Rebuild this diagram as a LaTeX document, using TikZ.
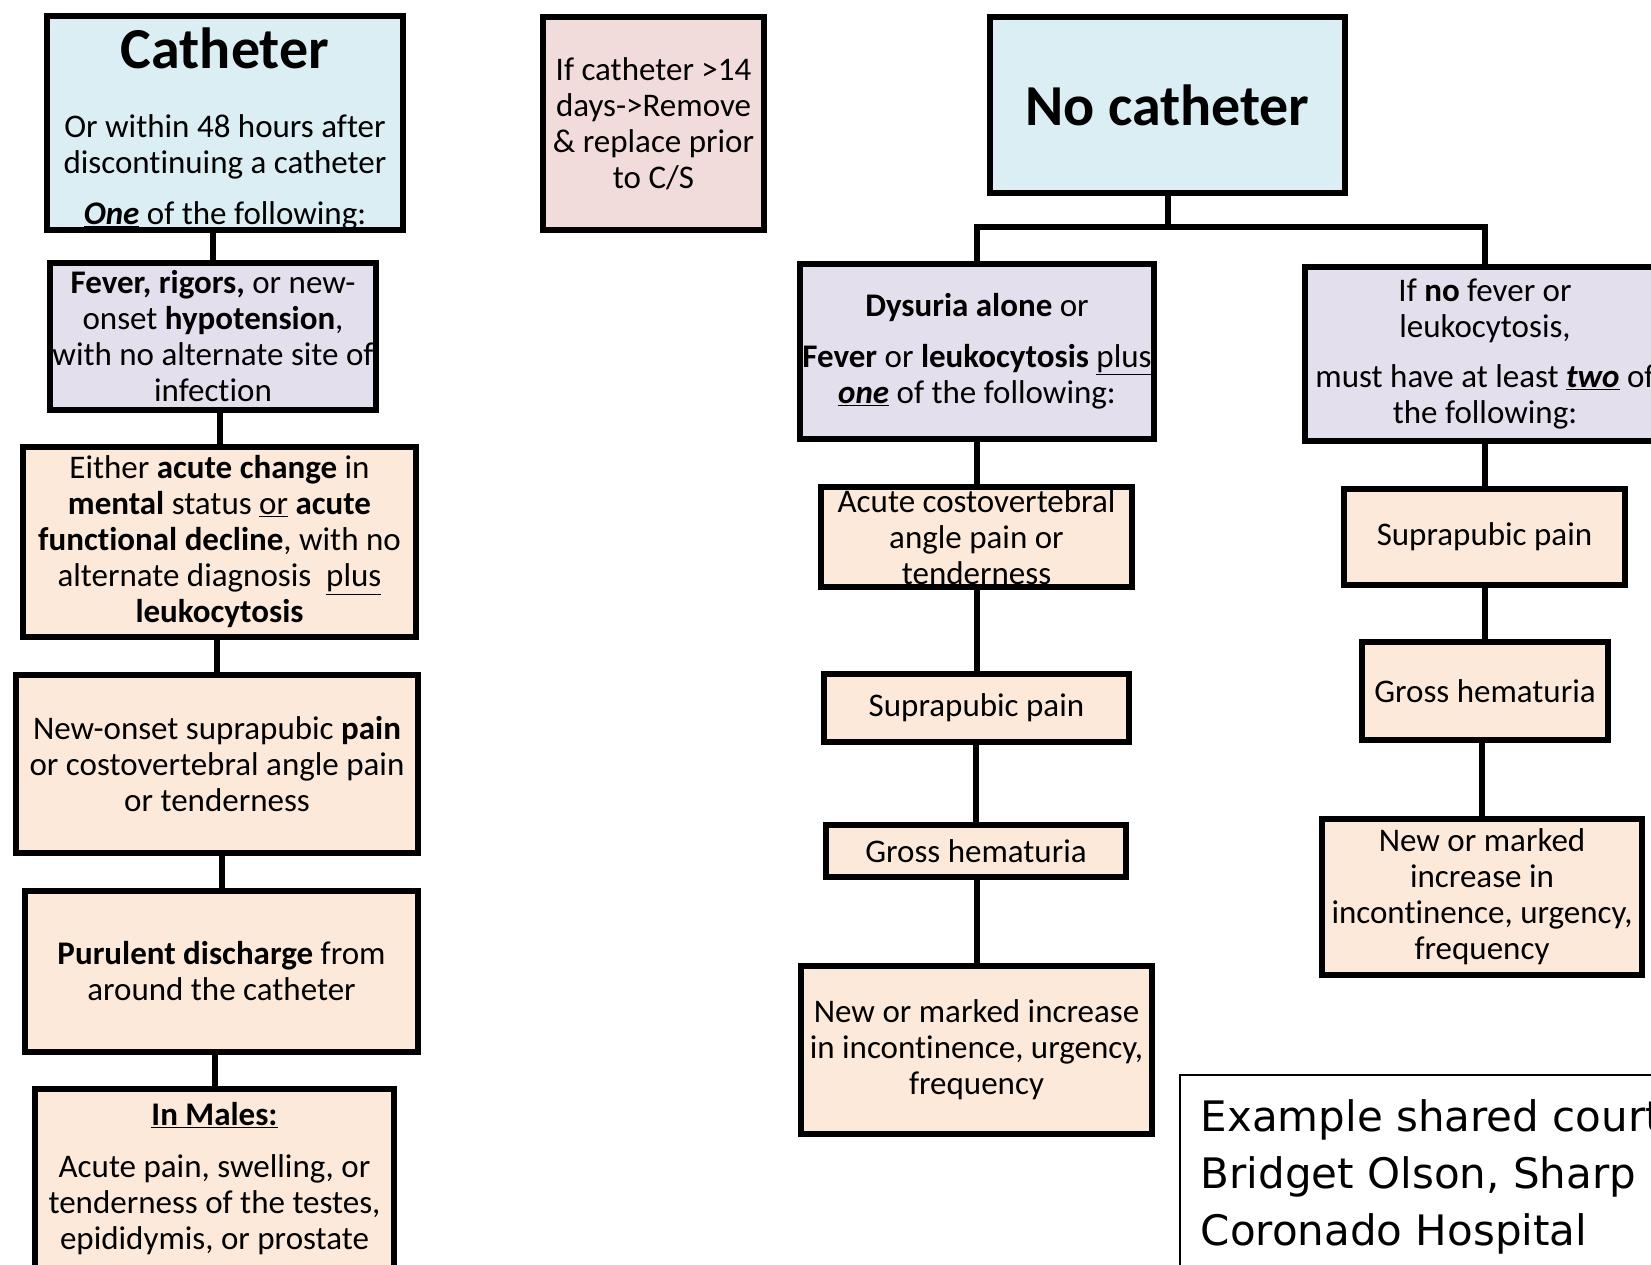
\documentclass[tikz,border=0pt]{standalone}
\usepackage{fontspec}
\setmainfont{Carlito}[Ligatures={TeX,NoCommon}]
\newfontfamily\notefamily{DejaVu Sans}
\usepackage{tikz}
\usepackage{xcolor}
\definecolor{catBlue}{HTML}{DBEEF4}
\definecolor{catLilac}{HTML}{E4DFEC}
\definecolor{catPeach}{HTML}{FDE9D9}
\definecolor{catRose}{HTML}{F2DCDB}
\newcommand\critfont{\fontsize{33}{36}\selectfont}
\newcommand\headfont{\fontsize{58}{60}\selectfont\bfseries}
\newcommand\notefont{\notefamily\fontsize{42}{57}\selectfont}
\tikzset{
  critbox/.style={draw=black, line width=6pt, inner sep=0pt, align=center, font=\critfont},
  link/.style={draw=black, line width=6pt},
  notebox/.style={draw=black, line width=1.5pt, align=left, inner xsep=21pt, inner ysep=25pt, font=\notefont}
}

\begin{document}
\begin{tikzpicture}[x=1pt, y=-1pt]
  \useasboundingbox (0,0) rectangle (1651,1265);
  \fill[white] (0,0) rectangle (1651,1265);
  \clip (0,0) rectangle (1651,1265);

  \node[critbox, fill=catBlue, minimum width=356pt, minimum height=208pt] (cath) at (225,123) {{\headfont\rule{0pt}{52pt}Catheter}\\[33pt]Or within 48 hours after\\discontinuing a catheter\\[15pt]\textbf{\textit{\underline{One}}} of the following:};
  \node[critbox, fill=catLilac, minimum width=326pt, minimum height=147pt] (fever) at (213,336.5) {\textbf{Fever, rigors,} or new-\\onset \textbf{hypotension},\\with no alternate site of\\infection};
  \node[critbox, fill=catPeach, minimum width=393pt, minimum height=190pt] (mental) at (219.5,542) {Either \textbf{acute change} in\\\textbf{mental} status \underline{or} \textbf{acute}\\\textbf{functional decline}, with no\\alternate diagnosis\ \ \underline{plus}\\\textbf{leukocytosis}};
  \node[critbox, fill=catPeach, minimum width=402pt, minimum height=178pt] (flankpain) at (217,764) {New-onset suprapubic \textbf{pain}\\or costovertebral angle pain\\or tenderness};
  \node[critbox, fill=catPeach, minimum width=393pt, minimum height=161pt] (discharge) at (221.5,971.5) {\textbf{Purulent discharge} from\\around the catheter};
  \node[critbox, fill=catPeach, minimum width=359pt, minimum height=180pt] (males) at (214.5,1179) {\underline{\textbf{In Males:}}\\[16pt]Acute pain, swelling, or\\tenderness of the testes,\\epididymis, or prostate};

  \node[critbox, fill=catRose, minimum width=221pt, minimum height=213pt] (replace) at (653.5,123.5) {If catheter >14\\days->Remove\\\& replace prior\\to C/S};

  \node[critbox, fill=catBlue, minimum width=355pt, minimum height=176pt] (nocath) at (1167.5,105) {\headfont No catheter};
  \node[critbox, fill=catLilac, minimum width=354pt, minimum height=175pt] (dysuria) at (977,351.5) {\textbf{Dysuria alone} or\\[15pt]\textbf{Fever} or \textbf{leukocytosis} \underline{plus}\\\textbf{\textit{\underline{one}}} of the following:};
  \node[critbox, fill=catLilac, minimum width=360pt, minimum height=174pt] (nofever) at (1485,354) {If \textbf{no} fever or\\leukocytosis,\\[14pt]must have at least \textbf{\textit{\underline{two}}} of\\the following:};

  \node[critbox, fill=catPeach, minimum width=311pt, minimum height=100pt] (cva) at (976.5,537) {Acute costovertebral\\angle pain or\\tenderness};
  \node[critbox, fill=catPeach, minimum width=305pt, minimum height=68pt] (supraA) at (976.5,708) {Suprapubic pain};
  \node[critbox, fill=catPeach, minimum width=300pt, minimum height=52pt] (grossA) at (976,851) {Gross hematuria};
  \node[critbox, fill=catPeach, minimum width=351pt, minimum height=168pt] (urgeA) at (976.5,1050) {New or marked increase\\in incontinence, urgency,\\frequency};

  \node[critbox, fill=catPeach, minimum width=281pt, minimum height=96pt] (supraB) at (1484.5,537) {Suprapubic pain};
  \node[critbox, fill=catPeach, minimum width=246pt, minimum height=98pt] (grossB) at (1485,691) {Gross hematuria};
  \node[critbox, fill=catPeach, minimum width=320pt, minimum height=156pt] (urgeB) at (1482,897) {New or marked\\increase in\\incontinence, urgency,\\frequency};

  \node[notebox, anchor=north west] (credit) at (1179,1074) {Example shared courtesy of\\Bridget Olson, Sharp\\Coronado Hospital};

  \draw[link] (cath.south -| fever.north) -- (fever.north);
  \draw[link] (fever.south -| mental.north) -- (mental.north);
  \draw[link] (mental.south -| flankpain.north) -- (flankpain.north);
  \draw[link] (flankpain.south -| discharge.north) -- (discharge.north);
  \draw[link] (discharge.south -| males.north) -- (males.north);

  \coordinate (fork) at (1167.5,227);
  \draw[link] (nocath.south) -- (fork);
  \draw[link] (dysuria.north) |- (fork) -| (nofever.north);

  \draw[link] (dysuria.south -| cva.north) -- (cva.north);
  \draw[link] (cva.south -| supraA.north) -- (supraA.north);
  \draw[link] (supraA.south -| grossA.north) -- (grossA.north);
  \draw[link] (grossA.south -| urgeA.north) -- (urgeA.north);

  \draw[link] (nofever.south -| supraB.north) -- (supraB.north);
  \draw[link] (supraB.south -| grossB.north) -- (grossB.north);
  \draw[link] (grossB.south -| urgeB.north) -- (urgeB.north);
\end{tikzpicture}
\end{document}
